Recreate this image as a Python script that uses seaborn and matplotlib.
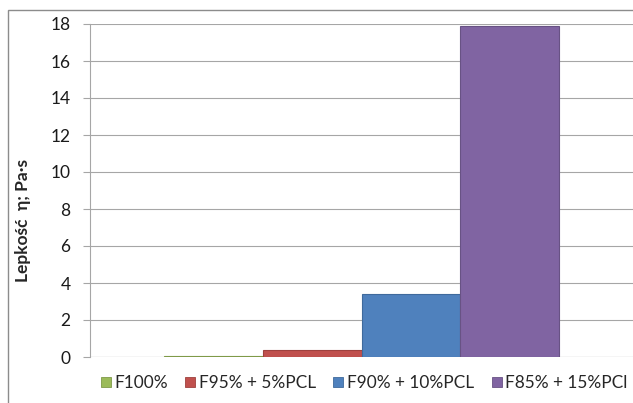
import matplotlib
matplotlib.use("Agg")
import matplotlib.pyplot as plt
from matplotlib.lines import Line2D
from matplotlib.patches import Rectangle
import pandas as pd
import seaborn as sns

# Data
series = ["F100%", "F95% + 5%PCL", "F90% + 10%PCL", "F85% + 15%PCl"]
viscosity = [0.07, 0.38, 3.38, 17.9]
colors = ["#9BBB59", "#C0504D", "#4F81BD", "#8064A2"]
edges = ["#7F9A48", "#9E413E", "#3F6A9C", "#685284"]
y_ticks = [0, 2, 4, 6, 8, 10, 12, 14, 16, 18]

df = pd.DataFrame({"grupa": [""] * len(series), "seria": series, "lepkosc": viscosity})

sns.set_theme(style="white")
plt.rcParams["font.family"] = ["Lato", "DejaVu Sans"]

fig = plt.figure(figsize=(6.33, 4.03), dpi=100)
ax = fig.add_axes([90 / 633, 1 - 357 / 403, 543 / 633, 333 / 403])

sns.barplot(data=df, x="grupa", y="lepkosc", hue="seria", palette=colors,
            width=0.727, gap=0, saturation=1, ax=ax, legend=False)
for bar, ec in zip(ax.patches, edges):
    bar.set_edgecolor(ec)
    bar.set_linewidth(0.8)

ax.set_xlim(-0.5, 0.5)
ax.set_ylim(0, 18)
ax.set_yticks(y_ticks)
ax.set_xticks([])
ax.set_xlabel("")
ax.set_ylabel("Lepkość  η; Pa·s", fontsize=12.5, fontweight="bold")
ax.yaxis.set_label_coords(-0.108, 0.41)
ax.tick_params(axis="y", labelsize=12.5, length=5, color="#A6A6A6", width=0.8,
               left=True, pad=9, labelcolor="#1A1A1A")
ax.yaxis.grid(True, color="#A6A6A6", linewidth=0.8)
ax.set_axisbelow(True)
for side in ["top", "right", "bottom"]:
    ax.spines[side].set_visible(False)
ax.spines["left"].set_color("#A6A6A6")
ax.spines["left"].set_linewidth(0.8)
ax.axhline(0, color="#A6A6A6", linewidth=0.8, zorder=0)

# square legend markers like the office chart
handles = [Line2D([], [], marker="s", linestyle="", markersize=6.5,
                  markerfacecolor=c, markeredgecolor=ec, markeredgewidth=0.6)
           for c, ec in zip(colors, edges)]
fig.legend(handles, series, loc="center left", bbox_to_anchor=(101 / 633, 1 - 383 / 403),
           ncol=4, frameon=False, fontsize=12.4, handlelength=0.55,
           handletextpad=0.2, columnspacing=1.05, borderaxespad=0, borderpad=0)

# outer chart frame
fig.patches.append(Rectangle((8 / 633, -0.1), 1.2, 1.1 - 10 / 403,
                             transform=fig.transFigure, fill=False,
                             edgecolor="#8C8C8C", linewidth=1.0))

fig.savefig("out.png", dpi=100)
